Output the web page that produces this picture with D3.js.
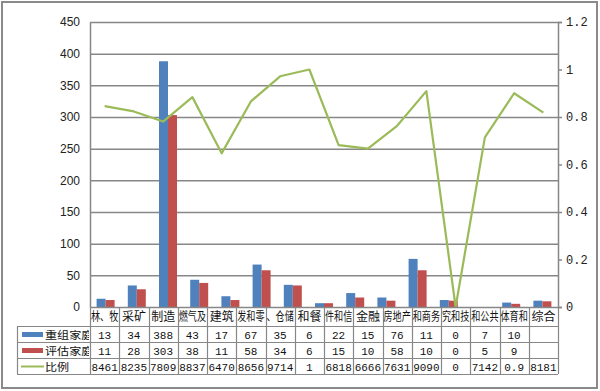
<!DOCTYPE html>
<html>
<head>
<meta charset="utf-8">
<script src="https://cdn.jsdelivr.net/npm/d3@7"></script>
<style>
  body { margin: 0; background: #fff; }
  svg { display: block; }
</style>
</head>
<body>
<div id="chart"></div>
<script>
// categories (labels as they show in the data table) and series
let cats = ["林、牧", "采矿", "制造", "燃气及", "建筑", "发和零", "、仓储", "和餐",
            "件和信", "金融", "房地产", "和商务", "究和技", "和公共", "体育和", "综合"];
let chongzu = [13, 34, 388, 43, 17, 67, 35, 6, 22, 15, 76, 11, 0, 7, 10];   // 重组家庭
let pinggu  = [11, 28, 303, 38, 11, 58, 34, 6, 15, 10, 58, 10, 0, 5, 9];    // 评估家庭
let bili    = [0.8461, 0.8235, 0.7809, 0.8837, 0.6470, 0.8656, 0.9714, 1, 0.6818,
               0.6666, 0.7631, 0.9090, 0, 0.7142, 0.9, 0.8181];
let biliText = ["8461", "8235", "7809", "8837", "6470", "8656", "9714", "1", "6818",
                "6666", "7631", "9090", "0", "7142", "0.9", "8181"];
let leftTicks = [0, 50, 100, 150, 200, 250, 300, 350, 400, 450];
let rightTicks = [0, 0.2, 0.4, 0.6, 0.8, 1, 1.2];
let seriesNames = ["重组家庭", "评估家庭", "比例"];

const W = 600, H = 391;
const plot = { left: 90, right: 558, top: 22, bottom: 307 };
const colBlue = "#4f81bd", colRed = "#c0504d", colGreen = "#9bbb59", gridC = "#878787";
const cjk = "'Noto Sans CJK SC', sans-serif";
const mono = "'Liberation Mono', monospace";

let svg = d3.select("#chart").append("svg")
  .attr("width", W).attr("height", H);

// chart frame
svg.append("rect")
  .attr("x", 2).attr("y", 2).attr("width", 595).attr("height", 386)
  .attr("fill", "#fff").attr("stroke", "#8a8a8a").attr("stroke-width", 2);

let yL = d3.scaleLinear().domain([0, 450]).range([plot.bottom, plot.top]);
let yR = d3.scaleLinear().domain([0, 1.2]).range([plot.bottom, plot.top]);
// bars sit on 15 slots, the line and the table on 16
let xBar = d3.scaleBand().domain(d3.range(chongzu.length)).range([plot.left, plot.right]);
let xCat = d3.scaleBand().domain(d3.range(cats.length)).range([plot.left, plot.right]);

// gridlines
svg.append("g").selectAll("line").data(leftTicks.slice(1)).join("line")
  .attr("x1", plot.left).attr("x2", plot.right)
  .attr("y1", d => yL(d) + 0.5).attr("y2", d => yL(d) + 0.5)
  .attr("stroke", gridC).attr("stroke-width", 1.5);

// left axis
let leftAxis = d3.axisLeft(yL).tickValues(leftTicks).tickSize(0).tickPadding(10);
let gl = svg.append("g").attr("transform", `translate(${plot.left},0)`).call(leftAxis);
gl.select(".domain").attr("stroke", gridC).attr("stroke-width", 1.5);
gl.selectAll("text").attr("font-family", "'Liberation Sans', Arial, sans-serif")
  .attr("font-size", 12).attr("fill", "#222");

// right axis
let rightAxis = d3.axisRight(yR).tickValues(rightTicks).tickSize(4).tickPadding(4)
  .tickFormat(d => d === 0 ? "0" : d3.format("~g")(d));
let gr = svg.append("g").attr("transform", `translate(${plot.right},0)`).call(rightAxis);
gr.selectAll(".domain, line").attr("stroke", gridC).attr("stroke-width", 1.5);
gr.selectAll("text").attr("font-family", mono).attr("font-size", 12).attr("fill", "#222");

// bars
let bw = 9;
svg.append("g").selectAll("rect").data(chongzu).join("rect")
  .attr("x", (d, i) => xBar(i) + xBar.bandwidth() / 2 - bw)
  .attr("y", d => yL(d)).attr("width", bw)
  .attr("height", d => plot.bottom - yL(d)).attr("fill", colBlue);
svg.append("g").selectAll("rect").data(pinggu).join("rect")
  .attr("x", (d, i) => xBar(i) + xBar.bandwidth() / 2)
  .attr("y", d => yL(d)).attr("width", bw)
  .attr("height", d => plot.bottom - yL(d)).attr("fill", colRed);

// ratio line
let line = d3.line()
  .x((d, i) => xCat(i) + xCat.bandwidth() / 2)
  .y(d => yR(d));
svg.append("path").datum(bili).attr("d", line)
  .attr("fill", "none").attr("stroke", colGreen).attr("stroke-width", 2.2)
  .attr("stroke-linejoin", "round");

// bottom axis line
svg.append("line").attr("x1", plot.left).attr("x2", plot.right)
  .attr("y1", plot.bottom + 0.5).attr("y2", plot.bottom + 0.5)
  .attr("stroke", gridC).attr("stroke-width", 1.5);

// data table
const rowTop = [326, 342, 358], tblBottom = 374, legLeft = 17;
let tbl = svg.append("g");
[326, 342, 358, 374].forEach(y => {
  tbl.append("line").attr("x1", legLeft).attr("x2", plot.right)
    .attr("y1", y + 0.5).attr("y2", y + 0.5).attr("stroke", gridC).attr("stroke-width", 1.2);
});
let vx = d3.range(cats.length + 1).map(i => i < cats.length ? xCat(i) : plot.right);
tbl.selectAll("line.v").data(vx).join("line").attr("class", "v")
  .attr("x1", d => Math.round(d) + 0.5).attr("x2", d => Math.round(d) + 0.5)
  .attr("y1", plot.bottom).attr("y2", tblBottom)
  .attr("stroke", gridC).attr("stroke-width", 1.2);
tbl.append("line").attr("x1", legLeft + 0.5).attr("x2", legLeft + 0.5)
  .attr("y1", 326).attr("y2", tblBottom).attr("stroke", gridC).attr("stroke-width", 1.2);

// category labels, narrowed to fit their cells
let cw = xCat.bandwidth();
tbl.selectAll("text.cat").data(cats).join("text").attr("class", "cat")
  .attr("transform", (d, i) => {
    let sx = d.length > 2 ? 0.76 : 1;
    return `translate(${xCat(i) + cw / 2},321) scale(${sx},1)`;
  })
  .attr("text-anchor", "middle").attr("font-family", cjk).attr("font-size", 12)
  .attr("fill", "#111").text(d => d);

// legend column (clipped like the original)
svg.append("clipPath").attr("id", "legclip").append("rect")
  .attr("x", legLeft).attr("y", 326).attr("width", plot.left - legLeft - 1).attr("height", 48);
let leg = tbl.append("g").attr("clip-path", "url(#legclip)");
[colBlue, colRed].forEach((c, k) => {
  leg.append("rect").attr("x", 22).attr("y", rowTop[k] + 6).attr("width", 21).attr("height", 5)
    .attr("fill", c);
});
leg.append("line").attr("x1", 21).attr("x2", 44).attr("y1", rowTop[2] + 8.5).attr("y2", rowTop[2] + 8.5)
  .attr("stroke", colGreen).attr("stroke-width", 2);
seriesNames.forEach((s, k) => {
  leg.append("text").attr("transform", `translate(45,${rowTop[k] + 12.5}) scale(1.12,1)`)
    .attr("font-family", cjk).attr("font-size", 10.8).attr("fill", "#111").text(s);
});

// table values
let rows = [chongzu.map(String), pinggu.map(String), biliText];
rows.forEach((r, k) => {
  tbl.append("g").selectAll("text").data(r).join("text")
    .attr("x", (d, i) => xCat(i) + cw / 2).attr("y", rowTop[k] + 12.5)
    .attr("text-anchor", "middle").attr("font-family", mono).attr("font-size", 11)
    .attr("fill", "#111").text(d => d);
});
</script>
</body>
</html>
